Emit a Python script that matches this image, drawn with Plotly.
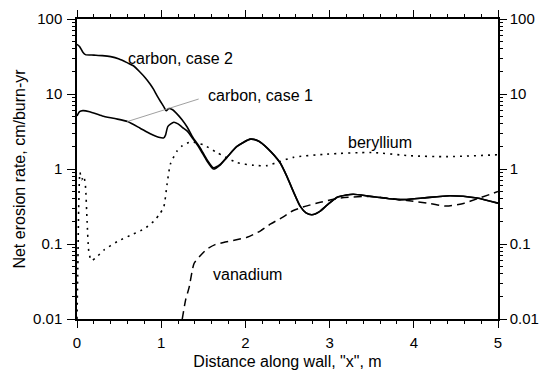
import plotly.graph_objects as go

# ---- data ----
c2_x = [0.0, 0.03, 0.07, 0.1, 0.2, 0.3, 0.4, 0.5, 0.6, 0.67, 0.75, 0.81, 0.87, 0.91, 0.95, 0.99,
        1.03, 1.06, 1.09, 1.13, 1.19, 1.25, 1.31, 1.38, 1.46, 1.54, 1.62, 1.7, 1.78, 1.9,
        2.06, 2.16, 2.26, 2.41, 2.49, 2.57, 2.65, 2.72, 2.79, 2.88, 2.97, 3.09, 3.2, 3.28,
        3.5, 3.84, 4.1, 4.43, 4.75, 5.0]
c2_y = [46, 43, 36, 33.5, 33, 32.5, 31.5, 29.3, 26, 23.8, 19.5, 16.5, 13.5, 11.5, 9.5, 8.0,
        6.8, 6.0, 6.4, 6.2, 5.4, 4.5, 3.6, 2.6, 1.94, 1.35, 1.04, 1.15, 1.43, 2.0,
        2.5, 2.35, 1.9, 1.22, 0.81, 0.5, 0.32, 0.26, 0.245, 0.27, 0.33, 0.42, 0.45, 0.46,
        0.43, 0.39, 0.41, 0.44, 0.41, 0.35]

c1_x = [0.0, 0.03, 0.07, 0.15, 0.3, 0.45, 0.6, 0.75, 0.87, 0.97, 1.03, 1.05, 1.08, 1.15,
        1.2, 1.25, 1.31, 1.38, 1.46, 1.54, 1.62, 1.7, 1.78, 1.9, 2.06, 2.16,
        2.26, 2.41, 2.49, 2.57, 2.65, 2.72, 2.79, 2.88, 2.97, 3.09, 3.2, 3.28, 3.5, 3.84,
        4.1, 4.43, 4.75, 5.0]
c1_y = [5.1, 5.8, 6.0, 5.8, 5.1, 4.7, 4.3, 3.5, 2.95, 2.65, 2.6, 2.8, 3.7, 4.2,
        4.0, 3.6, 3.2, 2.5, 1.85, 1.3, 1.0, 1.13, 1.43, 2.0, 2.5, 2.35,
        1.9, 1.22, 0.81, 0.5, 0.32, 0.26, 0.245, 0.27, 0.33, 0.42, 0.45, 0.46, 0.43, 0.39,
        0.41, 0.44, 0.41, 0.35]

be_x = [0.0, 0.01, 0.02, 0.035, 0.055, 0.08, 0.1, 0.12, 0.14, 0.17, 0.22, 0.32, 0.48, 0.67,
        0.8, 0.91, 0.98, 1.03, 1.07, 1.11, 1.19, 1.25, 1.35, 1.5, 1.66, 1.9, 2.1, 2.26,
        2.4, 2.57, 2.97, 3.5, 3.96, 4.39, 5.0]
be_y = [0.01, 0.05, 0.3, 0.9, 0.72, 0.8, 0.6, 0.2, 0.08, 0.06, 0.065, 0.083, 0.108, 0.136,
        0.16, 0.2, 0.25, 0.31, 0.63, 1.17, 1.75, 2.04, 2.3, 2.1, 1.66, 1.22, 1.12, 1.11,
        1.25, 1.43, 1.58, 1.66, 1.5, 1.46, 1.55]

v_x = [1.25, 1.29, 1.33, 1.39, 1.45, 1.54, 1.64, 1.74, 1.88, 2.02, 2.18, 2.3, 2.45, 2.57,
       2.72, 2.89, 3.13, 3.48, 3.92, 4.2, 4.39, 4.6, 4.75, 5.0]
v_y = [0.01, 0.018, 0.026, 0.055, 0.067, 0.085, 0.098, 0.105, 0.113, 0.123, 0.15, 0.185,
       0.23, 0.28, 0.32, 0.36, 0.41, 0.43, 0.38, 0.345, 0.32, 0.35, 0.40, 0.5]

y_ticks = [0.01, 0.1, 1, 10, 100]
y_ticktext = ["0.01", "0.1", "1", "10", "100"]
x_ticks = [0, 1, 2, 3, 4, 5]
y_minor = [m * d for d in [0.01, 0.1, 1, 10] for m in range(2, 10)]

FONT = "Liberation Sans, Arial, sans-serif"

fig = go.Figure()
fig.add_trace(go.Scatter(x=c2_x, y=c2_y, mode="lines",
                         line=dict(color="black", width=1.6, shape="spline", smoothing=0.6)))
fig.add_trace(go.Scatter(x=c1_x, y=c1_y, mode="lines",
                         line=dict(color="black", width=1.6, shape="spline", smoothing=0.6)))
fig.add_trace(go.Scatter(x=be_x, y=be_y, mode="lines",
                         line=dict(color="black", width=1.6, dash="2px,5px", shape="spline", smoothing=0.6)))
fig.add_trace(go.Scatter(x=v_x, y=v_y, mode="lines",
                         line=dict(color="black", width=1.5, dash="8px,5px", shape="spline", smoothing=0.6)))
for ax in ["y2", "y3", "y4"]:
    fig.add_trace(go.Scatter(x=[None], y=[None], yaxis=ax, mode="lines", showlegend=False))

tickfont = dict(family=FONT, size=15, color="black")
axis_common = dict(showgrid=False, zeroline=False, showline=True, linecolor="black",
                   linewidth=1.5, ticks="outside", tickcolor="black", automargin=False,
                   tickfont=tickfont)
minor_axis = dict(type="log", range=[-2, 2], overlaying="y", anchor="x",
                  tickmode="array", tickvals=y_minor, ticks="outside", ticklen=4, tickwidth=1,
                  tickcolor="black", showticklabels=False, showline=False, showgrid=False,
                  zeroline=False, automargin=False)

fig.update_layout(
    template="none",
    width=540, height=371,
    margin=dict(l=77, r=42, t=19, b=52),
    plot_bgcolor="white", paper_bgcolor="white",
    showlegend=False,
    font=dict(family=FONT, size=16, color="black"),
    xaxis=dict(range=[0, 5], tickvals=x_ticks, ticklen=7, tickwidth=1.2, mirror="ticks",
               ticklabelstandoff=2,
               minor=dict(dtick=0.2, ticklen=3, ticks="outside", tickcolor="black", tickwidth=1),
               title=dict(text='Distance along wall, "x", m', font=dict(family=FONT, size=16), standoff=6),
               **axis_common),
    yaxis=dict(type="log", range=[-2, 2], tickvals=y_ticks, ticktext=y_ticktext,
               ticklen=8, tickwidth=1.2, ticklabelstandoff=2,
               title=dict(text="Net erosion rate, cm/burn-yr", font=dict(family=FONT, size=16), standoff=3),
               **axis_common),
    yaxis2=dict(type="log", range=[-2, 2], overlaying="y", side="right", anchor="x",
                tickvals=y_ticks, ticktext=y_ticktext, ticklen=7, tickwidth=1.2,
                ticklabelstandoff=0, **axis_common),
    yaxis3=dict(side="left", **minor_axis),
    yaxis4=dict(side="right", **minor_axis),
)

ann_font = dict(family=FONT, size=16, color="black")
fig.add_annotation(x=0.587, y=1.47, text="carbon, case 2", showarrow=False,
                   xanchor="left", yanchor="middle", font=ann_font)
fig.add_annotation(x=1.536, y=0.976, text="carbon, case 1", showarrow=False,
                   xanchor="left", yanchor="middle", font=ann_font)
fig.add_annotation(x=3.197, y=0.355, text="beryllium", showarrow=False,
                   xanchor="left", yanchor="middle", font=ann_font)
fig.add_annotation(x=1.59, y=-1.4, text="vanadium", showarrow=False,
                   xanchor="left", yanchor="middle", font=ann_font)
# leader line for "carbon, case 1"
fig.add_shape(type="line", xref="x", yref="y", x0=0.595, y0=4.28, x1=1.445, y1=8.57,
              line=dict(color="#888888", width=0.8))

fig.write_html("out.html")
